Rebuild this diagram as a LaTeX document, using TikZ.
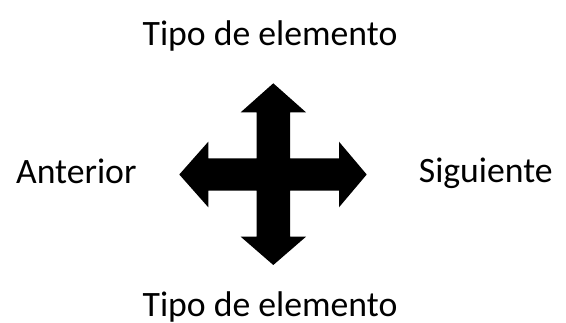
\documentclass[tikz,border=0pt]{standalone}
\usepackage{fontspec}
\setmainfont{Carlito}
\begin{document}
\begin{tikzpicture}[x=1pt,y=-1pt,
  lbl/.style={font=\fontsize{35.7}{40}\selectfont, anchor=base, inner sep=0pt}]
\useasboundingbox (0,0) rectangle (566,322);
\fill[black] (273.3,83.3) -- (306,112.3) -- (290,112.3) -- (290,158.3) -- (339,158.3) -- (339,141.7)
  -- (366.7,174.5) -- (339,207.3) -- (339,190.7) -- (290,190.7) -- (290,236.7) -- (306,236.7)
  -- (273.3,265) -- (240.7,236.7) -- (256.7,236.7) -- (256.7,190.7) -- (208.3,190.7) -- (208.3,207.3)
  -- (179.3,174.5) -- (208.3,141.7) -- (208.3,158.3) -- (256.7,158.3) -- (256.7,112.3) -- (240.7,112.3) -- cycle;
\node[lbl] (top) at (270,45) {Tipo de elemento};
\node[lbl] (bottom) at (270,316.5) {Tipo de elemento};
\node[lbl] (left) at (76.3,183) {Anterior};
\node[lbl] (right) at (485.8,182.5) {Siguiente};
\end{tikzpicture}
\end{document}
